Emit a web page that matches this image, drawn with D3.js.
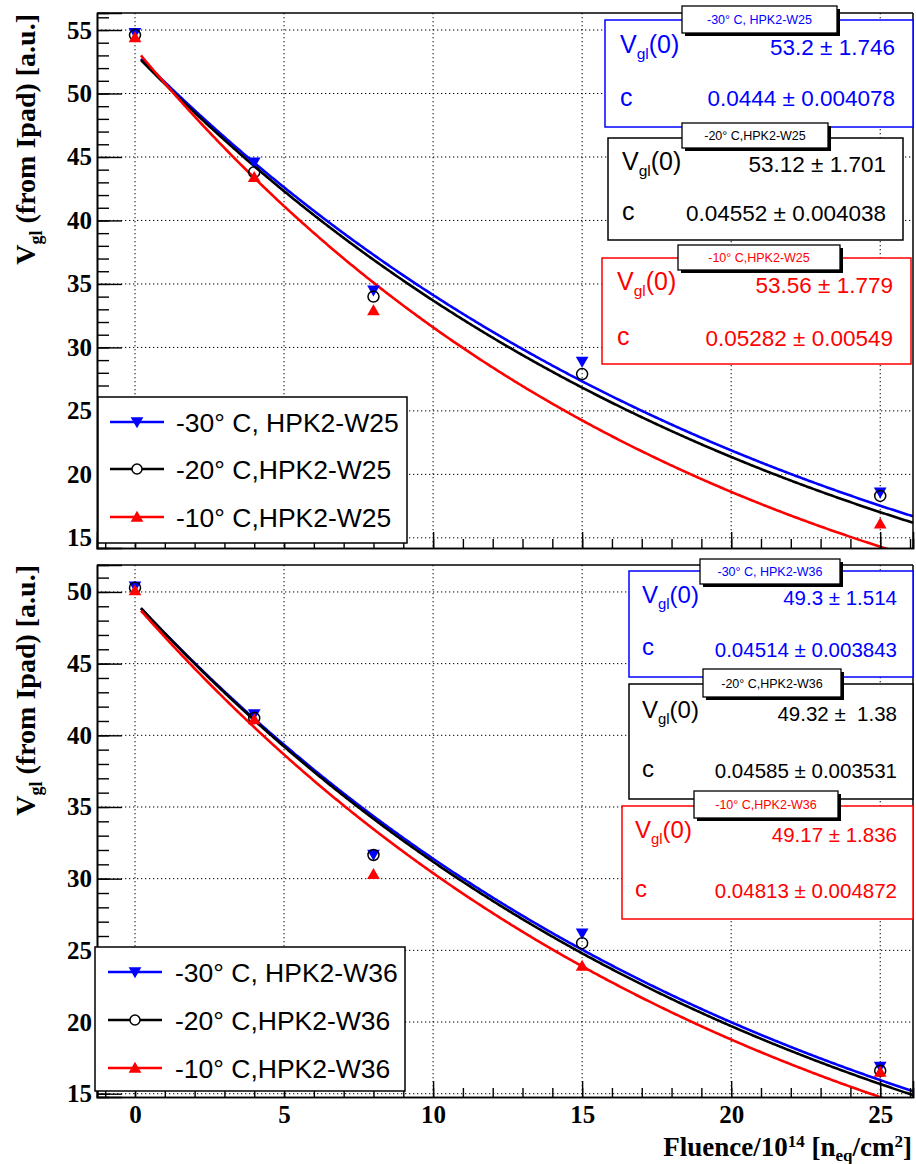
<!DOCTYPE html>
<html><head><meta charset="utf-8">
<script src="https://cdn.jsdelivr.net/npm/d3@7/dist/d3.min.js"></script>
<style>body{margin:0;background:#fff} text{white-space:pre}</style>
</head><body><svg id="c" width="916" height="1164"></svg>
<script>
// ---------- data ----------
const fluence = [0, 4, 8, 15, 25];
const namesW25 = ["-30° C, HPK2-W25", "-20° C,HPK2-W25", "-10° C,HPK2-W25"];
const namesW36 = ["-30° C, HPK2-W36", "-20° C,HPK2-W36", "-10° C,HPK2-W36"];
const w25_m30 = [54.8, 44.6, 34.5, 28.9, 18.6];
const w25_m20 = [54.6, 43.8, 34.0, 27.9, 18.3];
const w25_m10 = [54.4, 43.4, 32.9, null, 16.1];
const w36_m30 = [50.4, 41.5, 31.7, 26.2, 16.9];
const w36_m20 = [50.3, 41.2, 31.65, 25.5, 16.6];
const w36_m10 = [50.1, 41.1, 30.3, 23.9, 16.5];
const fitV0_W25 = [53.2, 53.12, 53.56];
const fitV0err_W25 = [1.746, 1.701, 1.779];
const fitC_W25 = [0.0444, 0.04552, 0.05282];
const fitCerr_W25 = [0.004078, 0.004038, 0.00549];
const fitV0_W36 = [49.3, 49.32, 49.17];
const fitV0err_W36 = [1.514, 1.38, 1.836];
const fitC_W36 = [0.04514, 0.04585, 0.04813];
const fitCerr_W36 = [0.003843, 0.003531, 0.004872];
const xTicks = [0, 5, 10, 15, 20, 25];
const yTicksTop = [15, 20, 25, 30, 35, 40, 45, 50, 55];
const yTicksBottom = [15, 20, 25, 30, 35, 40, 45, 50];

// ---------- layout ----------
const colors = ["#0000ff", "#000000", "#ff0000"];
const svg = d3.select("#c");
svg.append("rect").attr("width", 916).attr("height", 1164).attr("fill", "#fff");
const xDom = [-1.275, 26.1];
const x = d3.scaleLinear().domain(xDom).range([97, 913]);
const serif = "'Liberation Serif','Times New Roman',serif";
const sans = "'Liberation Sans',Arial,Helvetica,sans-serif";

const panels = [
  {id: "W25", y0: 13, y1: 548, dom: [14.2, 56.34], yt: yTicksTop, series: [w25_m30, w25_m20, w25_m10],
   names: namesW25, v0: fitV0_W25, v0e: fitV0err_W25, c: fitC_W25, ce: fitCerr_W25, showX: false,
   legend: {x0: 98, y0: 397, x1: 407, y1: 543, rows: [422, 469, 517], lx0: 110, lx1: 164, tx: 176},
   stats: [
     {box: [605, 20, 913, 127], head: [682, 6, 837, 33], lx: 620, vx: 895, r1: [53, 55], r2: [106, 106]},
     {box: [608, 138, 903, 240], head: [682, 123, 828, 148], lx: 622, vx: 886, r1: [170, 172], r2: [220, 221]},
     {box: [602, 258, 911, 364], head: [678, 245, 840, 270], lx: 617, vx: 893, r1: [290, 293], r2: [345, 346]}
   ], sfs: 22.5, lfs: 25, titleEnd: 14},
  {id: "W36", y0: 565, y1: 1097, dom: [14.77, 51.88], yt: yTicksBottom, series: [w36_m30, w36_m20, w36_m10],
   names: namesW36, v0: fitV0_W36, v0e: fitV0err_W36, c: fitC_W36, ce: fitCerr_W36, showX: true,
   legend: {x0: 95, y0: 947, x1: 405, y1: 1091, rows: [972, 1020, 1068], lx0: 108, lx1: 162, tx: 175},
   stats: [
     {box: [629, 571, 913, 677], head: [700, 559, 840, 584], lx: 642, vx: 897, r1: [603, 605], r2: [655, 657]},
     {box: [629, 684, 913, 799], head: [703, 669, 841, 697], lx: 642, vx: 897, r1: [718, 721], r2: [777, 778]},
     {box: [622, 806, 913, 919], head: [694, 791, 838, 818], lx: 635, vx: 897, r1: [838, 842], r2: [897, 898]}
   ], sfs: 20.5, lfs: 24, titleEnd: 565}
];

function marker(g, i, cx, cy) {
  if (i === 1) {
    g.append("circle").attr("cx", cx).attr("cy", cy).attr("r", 5.5)
      .attr("fill", "none").attr("stroke", "#000").attr("stroke-width", 1.5);
  } else {
    g.append("path").attr("d", d3.symbol(d3.symbolTriangle, 70)())
      .attr("transform", `translate(${cx},${cy + (i === 0 ? -1 : 1)}) rotate(${i === 0 ? 180 : 0})`)
      .attr("fill", colors[i]);
  }
}

panels.forEach((p, pi) => {
  const y = d3.scaleLinear().domain(p.dom).range([p.y1, p.y0]);
  const g = svg.append("g");
  const clipId = "clip" + pi;
  svg.append("defs").append("clipPath").attr("id", clipId).append("rect")
    .attr("x", x.range()[0]).attr("y", p.y0).attr("width", x.range()[1] - x.range()[0]).attr("height", p.y1 - p.y0);

  // grid
  g.selectAll(".gx").data(xTicks).join("line")
    .attr("x1", d => x(d)).attr("x2", d => x(d)).attr("y1", p.y0).attr("y2", p.y1)
    .attr("stroke", "#000").attr("stroke-width", 1).attr("stroke-dasharray", "1.3,2.7");
  g.selectAll(".gy").data(p.yt).join("line")
    .attr("x1", x.range()[0]).attr("x2", x.range()[1]).attr("y1", d => y(d)).attr("y2", d => y(d))
    .attr("stroke", "#000").attr("stroke-width", 1).attr("stroke-dasharray", "1.3,2.7");

  // fit curves
  const cg = g.append("g").attr("clip-path", `url(#${clipId})`);
  const line = d3.line().x(d => x(d[0])).y(d => y(d[1]));
  [0, 1, 2].forEach(i => {
    const pts = d3.range(0.2, xDom[1] + 0.05, 0.05).map(t => [t, p.v0[i] * Math.exp(-p.c[i] * t)]);
    cg.append("path").attr("d", line(pts)).attr("fill", "none")
      .attr("stroke", colors[i]).attr("stroke-width", 2.6);
  });

  // points
  const mg = g.append("g");
  p.series.forEach((s, i) => {
    s.forEach((v, k) => { if (v !== null) marker(mg, i, x(fluence[k]), y(v)); });
  });

  // axes
  const xMinor = d3.range(-1, 27, 1);
  const yMinor = d3.range(Math.ceil(p.dom[0]), Math.floor(p.dom[1]) + 1, 1);
  const ax1 = g.append("g").attr("transform", `translate(0,${p.y1})`)
    .call(d3.axisBottom(x).tickValues(xMinor).tickSize(-9).tickFormat(""));
  const ax2 = g.append("g").attr("transform", `translate(0,${p.y1})`)
    .call(d3.axisBottom(x).tickValues(xTicks).tickSize(-16).tickPadding(8)
      .tickFormat(p.showX ? d3.format("d") : ""));
  const ay1 = g.append("g").attr("transform", `translate(${x.range()[0]},0)`)
    .call(d3.axisLeft(y).tickValues(yMinor).tickSize(-12).tickFormat(""));
  const ay2 = g.append("g").attr("transform", `translate(${x.range()[0]},0)`)
    .call(d3.axisLeft(y).tickValues(p.yt).tickSize(-25).tickPadding(5).tickFormat(d3.format("d")));
  [ax1, ax2, ay1, ay2].forEach(a => {
    a.selectAll("line").attr("stroke", "#000").attr("stroke-width", 1.4);
    a.selectAll(".domain").attr("stroke", "#000").attr("stroke-width", 1.6);
    a.selectAll("text").attr("font-family", serif).attr("font-weight", "bold")
      .attr("font-size", 25).attr("fill", "#000");
  });
  // frame top & right
  g.append("line").attr("x1", x.range()[0]).attr("x2", x.range()[1]).attr("y1", p.y0).attr("y2", p.y0)
    .attr("stroke", "#000").attr("stroke-width", 1.5);
  g.append("line").attr("x1", x.range()[1]).attr("x2", x.range()[1]).attr("y1", p.y0).attr("y2", p.y1)
    .attr("stroke", "#000").attr("stroke-width", 1.5);

  // y title
  const yt = g.append("text").attr("transform", `translate(35,${p.titleEnd}) rotate(-90)`)
    .attr("text-anchor", "end").attr("font-family", serif).attr("font-weight", "bold")
    .attr("font-size", 28).attr("fill", "#000");
  yt.append("tspan").text("V");
  yt.append("tspan").attr("font-size", 18).attr("dy", 7).text("gl");
  yt.append("tspan").attr("dy", -7).text(" (from Ipad) [a.u.]");

  // legend
  const L = p.legend;
  const lg = g.append("g");
  lg.append("rect").attr("x", L.x0).attr("y", L.y0).attr("width", L.x1 - L.x0).attr("height", L.y1 - L.y0)
    .attr("fill", "#fff").attr("stroke", "#000").attr("stroke-width", 1.5);
  p.names.forEach((nm, i) => {
    const ry = L.rows[i];
    lg.append("line").attr("x1", L.lx0).attr("x2", L.lx1).attr("y1", ry).attr("y2", ry)
      .attr("stroke", colors[i]).attr("stroke-width", 2.5);
    if (i === 1) {
      lg.append("circle").attr("cx", (L.lx0 + L.lx1) / 2).attr("cy", ry).attr("r", 5)
        .attr("fill", "#fff").attr("stroke", "#000").attr("stroke-width", 1.5);
    } else marker(lg, i, (L.lx0 + L.lx1) / 2, ry);
    lg.append("text").attr("x", L.tx).attr("y", ry).attr("dy", "0.36em")
      .attr("font-family", sans).attr("font-size", 26.5).attr("fill", "#000").text(nm);
  });

  // stat boxes
  p.stats.forEach((s, i) => {
    const sg = g.append("g");
    const col = colors[i];
    sg.append("rect").attr("x", s.box[0]).attr("y", s.box[1]).attr("width", s.box[2] - s.box[0])
      .attr("height", s.box[3] - s.box[1]).attr("fill", "#fff").attr("stroke", col).attr("stroke-width", 1.5);
    sg.append("rect").attr("x", s.head[0] + 3).attr("y", s.head[1] + 3).attr("width", s.head[2] - s.head[0])
      .attr("height", s.head[3] - s.head[1]).attr("fill", "#000");
    sg.append("rect").attr("x", s.head[0]).attr("y", s.head[1]).attr("width", s.head[2] - s.head[0])
      .attr("height", s.head[3] - s.head[1]).attr("fill", "#fff").attr("stroke", "#000").attr("stroke-width", 1.3);
    sg.append("text").attr("x", (s.head[0] + s.head[2]) / 2).attr("y", (s.head[1] + s.head[3]) / 2)
      .attr("dy", "0.36em").attr("text-anchor", "middle").attr("font-family", sans).attr("font-size", 12.5)
      .attr("fill", col).text(p.names[i]);
    const l1 = sg.append("text").attr("x", s.lx).attr("y", s.r1[0]).attr("font-family", sans)
      .attr("font-size", p.lfs).attr("fill", col);
    l1.append("tspan").text("V");
    l1.append("tspan").attr("font-size", p.lfs * 0.62).attr("dy", 6).text("gl");
    l1.append("tspan").attr("dy", -6).text("(0)");
    sg.append("text").attr("x", s.vx).attr("y", s.r1[1]).attr("text-anchor", "end").attr("font-family", sans)
      .attr("font-size", p.sfs).attr("fill", col)
      .text(`${p.v0[i]} ± ${String(p.v0e[i]).padStart(5, " ")}`);
    sg.append("text").attr("x", s.lx).attr("y", s.r2[0]).attr("font-family", sans)
      .attr("font-size", p.lfs).attr("fill", col).text("c");
    sg.append("text").attr("x", s.vx).attr("y", s.r2[1]).attr("text-anchor", "end").attr("font-family", sans)
      .attr("font-size", p.sfs).attr("fill", col).text(`${p.c[i]} ± ${p.ce[i]}`);
  });
});

// x title
const xt = svg.append("text").attr("x", 912).attr("y", 1156).attr("text-anchor", "end")
  .attr("font-family", serif).attr("font-weight", "bold").attr("font-size", 27).attr("fill", "#000");
xt.append("tspan").text("Fluence/10");
xt.append("tspan").attr("font-size", 17).attr("dy", -9).text("14");
xt.append("tspan").attr("dy", 9).text(" [n");
xt.append("tspan").attr("font-size", 17).attr("dy", 5).text("eq");
xt.append("tspan").attr("dy", -5).text("/cm");
xt.append("tspan").attr("font-size", 17).attr("dy", -9).text("2");
xt.append("tspan").attr("dy", 9).text("]");
</script></body></html>
